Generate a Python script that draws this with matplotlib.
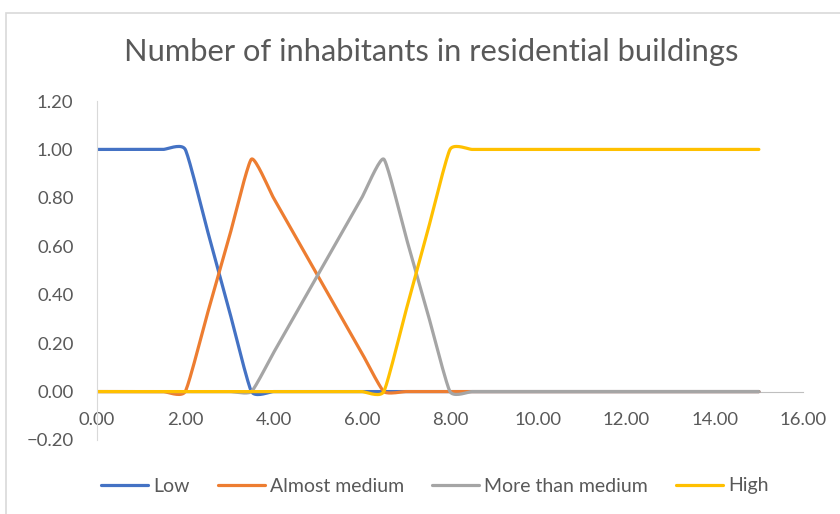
import numpy as np
import matplotlib.pyplot as plt
from matplotlib.patches import Rectangle

x = [0.0, 0.5, 1.0, 1.5, 2.0, 2.5, 3.0, 3.5, 4.0, 4.5, 5.0, 5.5, 6.0, 6.5, 7.0, 7.5,
     8.0, 8.5, 9.0, 9.5, 10.0, 10.5, 11.0, 11.5, 12.0, 12.5, 13.0, 13.5, 14.0, 14.5, 15.0]
low = [1, 1, 1, 1, 1, 0.667, 0.333, 0, 0, 0, 0, 0, 0, 0, 0, 0,
       0, 0, 0, 0, 0, 0, 0, 0, 0, 0, 0, 0, 0, 0, 0]
almost_medium = [0, 0, 0, 0, 0, 0.32, 0.64, 0.96, 0.80, 0.64, 0.48, 0.32, 0.16, 0, 0, 0,
                 0, 0, 0, 0, 0, 0, 0, 0, 0, 0, 0, 0, 0, 0, 0]
more_than_medium = [0, 0, 0, 0, 0, 0, 0, 0, 0.16, 0.32, 0.48, 0.64, 0.80, 0.96, 0.64, 0.32,
                    0, 0, 0, 0, 0, 0, 0, 0, 0, 0, 0, 0, 0, 0, 0]
high = [0, 0, 0, 0, 0, 0, 0, 0, 0, 0, 0, 0, 0, 0, 0.333, 0.667,
        1, 1, 1, 1, 1, 1, 1, 1, 1, 1, 1, 1, 1, 1, 1]

series = [("Low", low, "#4472C4"),
          ("Almost medium", almost_medium, "#ED7D31"),
          ("More than medium", more_than_medium, "#A5A5A5"),
          ("High", high, "#FFC000")]

x_ticks = [0, 2, 4, 6, 8, 10, 12, 14, 16]
y_ticks = [-0.2, 0.0, 0.2, 0.4, 0.6, 0.8, 1.0, 1.2]


def smooth(xs, ys, k=1 / 12, n=20):
    """Smoothed line like Excel's: cubic bezier through every point, k sets the tangent length."""
    p = np.column_stack([xs, ys]).astype(float)
    pts = [p[0]]
    t = np.linspace(0, 1, n)[1:, None]
    for i in range(len(p) - 1):
        prev = p[i - 1] if i > 0 else p[i]
        nxt = p[i + 2] if i + 2 < len(p) else p[i + 1]
        c1 = p[i] + (p[i + 1] - prev) * k
        c2 = p[i + 1] - (nxt - p[i]) * k
        seg = ((1 - t) ** 3 * p[i] + 3 * (1 - t) ** 2 * t * c1
               + 3 * (1 - t) * t ** 2 * c2 + t ** 3 * p[i + 1])
        pts.extend(seg)
    pts = np.array(pts)
    return pts[:, 0], pts[:, 1]


plt.rcParams['font.family'] = ['Lato', 'DejaVu Sans']
grey_txt = '#595959'

fig = plt.figure(figsize=(8.4, 5.14), dpi=100)
fig.patches.append(Rectangle((6 / 840, -0.5), 2, 1.5 - 13 / 514, transform=fig.transFigure,
                             fill=False, edgecolor='#D9D9D9', linewidth=1.2))
ax = fig.add_axes([97 / 840, 1 - 440 / 514, 706 / 840, 339 / 514])

for name, vals, col in series:
    sx, sy = smooth(x, vals)
    ax.plot(sx, sy, color=col, linewidth=2.3, label=name,
            solid_capstyle='round', solid_joinstyle='round')

ax.set_xlim(0, 16)
ax.set_ylim(-0.2, 1.2)
ax.set_xticks(x_ticks)
ax.set_yticks(y_ticks)
ax.set_xticklabels(['{:.2f}'.format(v) for v in x_ticks])
ax.set_yticklabels(['{:.2f}'.format(v).replace('-', '\u2212') for v in y_ticks])
for s in ['top', 'right']:
    ax.spines[s].set_visible(False)
ax.spines['bottom'].set_position(('data', 0))
ax.spines['bottom'].set_color('#BFBFBF')
ax.spines['left'].set_color('#D9D9D9')
ax.spines['bottom'].set_zorder(0)
ax.tick_params(axis='x', length=0, pad=14.5, labelsize=13.3, labelcolor=grey_txt)
ax.tick_params(axis='y', length=0, pad=17, labelsize=13.3, labelcolor=grey_txt)

fig.suptitle('Number of inhabitants in residential buildings', x=431 / 840, y=1 - 52 / 514,
             va='center', fontsize=22.2, color=grey_txt)
fig.legend(loc='center', bbox_to_anchor=(435 / 840, 1 - 486 / 514), ncol=4, frameon=False,
           fontsize=14, labelcolor=grey_txt, handlelength=2.42, handletextpad=0.26,
           columnspacing=1.44)

fig.savefig('out.png', dpi=100)
